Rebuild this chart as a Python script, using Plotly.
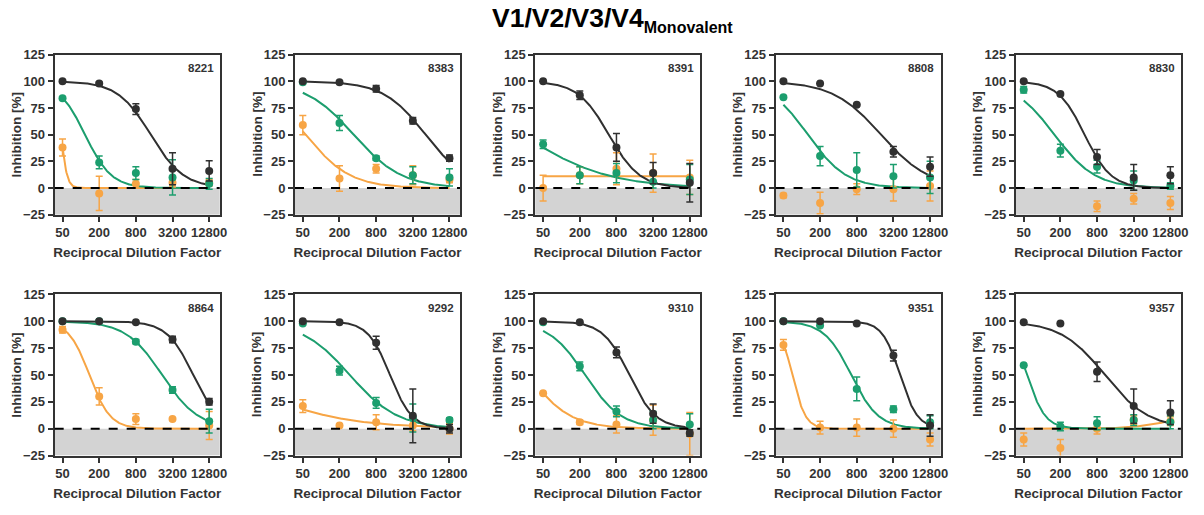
import numpy as np
import plotly.graph_objects as go

panel_ids = ["8221", "8383", "8391", "8808", "8830", "8864", "9292", "9310", "9351", "9357"]
dilutions = [50, 200, 800, 3200, 12800]
dilution_labels = ["50", "200", "800", "3200", "12800"]
y_ticks = [-25, 0, 25, 50, 75, 100, 125]

dark_vals = [
    [100, 98, 74, 18, 16], [100, 99, 93, 63, 28], [100, 87, 38, 14, 5], [100, 98, 78, 34, 20],
    [100, 88, 29, 10, 12], [100, 100, 99, 83, 25], [100, 99, 80, 12, 0], [100, 99, 71, 14, -4],
    [100, 100, 98, 68, 3], [99, 98, 53, 21, 15]]
dark_err = [
    [0, 1, 5, 15, 9.5], [0, 1, 3, 3, 3], [0, 4, 13, 10, 18], [0, 0, 0, 5, 9],
    [0, 0, 7, 12, 8], [0, 0, 0, 3, 3], [0, 0, 6, 25, 4], [0, 0, 5, 9, 3],
    [0, 0, 0, 5, 10], [0, 0, 9, 16, 11]]

green_vals = [
    [84, 24, 14, 10, 4], [99, 61, 28, 12, 10], [41, 12, 14, 6, 8], [85, 30, 17, 11, 10],
    [92, 35, 20, 7, 2], [100, 100, 81, 36, 7], [98, 54, 24, 10, 8], [99, 58, 16, 8, 4],
    [100, 96, 37, 18, 6], [59, 2, 5, 8, 6]]
green_err = [
    [0, 6, 6, 16.5, 5], [0, 7, 2, 8, 8], [4, 8, 9, 6, 14], [0, 9, 16, 11, 15],
    [3, 6, 6, 9, 3], [0, 0, 2, 3, 11], [0, 4, 5, 13, 2], [0, 4, 5, 8, 10],
    [0, 0, 11, 3, 6], [0, 4, 6, 5, 6]]

orange_vals = [
    [38, -5, 4, 5, 5], [59, 9, 18, 12, 8], [0, 12, 18, 14, 10], [-7, -14, -1, -1, 2],
    [None, None, -17, -10, -14], [92, 30, 9, 9, 3], [21, 3, 6, 3, 0], [33, 6, 4, 8, -5],
    [78, 1, 1, 0, -10], [-10, -18, 0, 8, 7]]
orange_err = [
    [8, 16, 4, 4, 3], [9, 12, 4, 9, 3], [12, 8, 15, 18, 16], [2, 10, 5, 11, 14],
    [0, 0, 5, 5, 6], [3, 8, 5, 0, 13], [6, 0, 7, 5, 5], [0, 2, 8, 14, 20],
    [5, 6, 8, 8, 6], [6, 8, 5, 4, 4]]

# fitted 4-parameter logistic curves: (top, bottom, IC50, hill)
dark_fit = [(100, 0, 1400, 1.6), (100, 0, 5200, 1.25), (100, 0, 600, 1.7), (100, 0, 2000, 1.1),
            (100, 0, 500, 2.0), (100, 0, 7000, 2.0), (100, 0, 1350, 2.4), (100, 0, 1300, 2.0),
            (100, 0, 4100, 3.0), (100, 0, 1070, 1.2)]
green_fit = [(100, 0, 117, 2.0), (100, 0, 342, 1.1), (100, 0, 22.6, 0.62), (100, 0, 126, 1.37),
             (100, 0, 160, 1.3), (100, 0, 2157, 1.46), (100, 0, 295, 1.1), (100, 0, 244, 1.46),
             (100, 0, 650, 1.95), (100, 0, 56.7, 2.9)]
orange_fit = [(100, 0, 47.3, 8.7), (100, 0, 55.4, 1.18), (11, 11, 100, 1.0), None,
              None, (100, 0, 138, 2.55), (100, 0, 2.6, 0.515), (100, 0, 28.2, 1.24),
              (100, 0, 70, 4.0), (0, 12, 10000, 1.5)]

DARK = "#303030"
GREEN = "#1c9e6e"
ORANGE = "#f7a545"
TXT = "#333333"
FONT = "Liberation Sans, Arial, sans-serif"

W, H = 1204, 515
fig = go.Figure()

xgrid = np.logspace(np.log10(dilutions[0]), np.log10(dilutions[-1]), 300)


def curve(p):
    top, bottom, ic, h = p
    return bottom + (top - bottom) / (1 + (xgrid / ic) ** h)


shapes = []
annotations = []
for i, pid in enumerate(panel_ids):
    row, col = divmod(i, 5)
    n = i + 1
    xa = "x" if n == 1 else f"x{n}"
    ya = "y" if n == 1 else f"y{n}"
    left_px = 55 + 241.7 * col
    left = left_px / W
    right = left + 166 / W
    if row == 0:
        ydom = [1 - 214 / H, 1 - 49 / H]
    else:
        ydom = [1 - 462 / H, 1 - 296 / H]

    for fits, color in ((orange_fit, ORANGE), (green_fit, GREEN), (dark_fit, DARK)):
        if fits[i] is not None:
            fig.add_trace(go.Scatter(x=xgrid, y=curve(fits[i]), mode="lines",
                                     line=dict(color=color, width=2), xaxis=xa, yaxis=ya,
                                     showlegend=False, hoverinfo="skip"))
    for vals, errs, color in ((orange_vals, orange_err, ORANGE), (green_vals, green_err, GREEN),
                              (dark_vals, dark_err, DARK)):
        fig.add_trace(go.Scatter(x=dilutions, y=vals[i], mode="markers",
                                 marker=dict(color=color, size=8),
                                 error_y=dict(type="data", array=errs[i], color=color,
                                              thickness=1.5, width=3.5),
                                 xaxis=xa, yaxis=ya, showlegend=False))

    axis_common = dict(showline=True, linecolor=TXT, linewidth=2, mirror=True,
                       ticks="outside", ticklen=5, tickwidth=2, tickcolor=TXT,
                       showgrid=False, zeroline=False,
                       tickfont=dict(family=FONT, size=13, color=TXT, weight="bold"))
    fig.update_layout(**{
        ("xaxis" if n == 1 else f"xaxis{n}"): dict(
            domain=[left, right], anchor=ya, type="log", range=[1.57, 4.28],
            tickvals=dilutions, ticktext=dilution_labels,
            title=dict(text="Reciprocal Dilution Factor", standoff=8,
                       font=dict(family=FONT, size=13.5, color=TXT, weight="bold")),
            **axis_common),
        ("yaxis" if n == 1 else f"yaxis{n}"): dict(
            domain=ydom, anchor=xa, range=[-25, 125], tickvals=y_ticks,
            **axis_common),
    })
    annotations.append(dict(text="<b>Inhibition [%]</b>", textangle=-90,
                            xref="paper", yref="paper", x=(left_px - 38) / W,
                            y=(ydom[0] + ydom[1]) / 2, xanchor="center", yanchor="middle",
                            showarrow=False, font=dict(family=FONT, size=13.5, color=TXT)))
    shapes.append(dict(type="rect", xref=f"{xa} domain", yref=ya, x0=0, x1=1, y0=-25, y1=0,
                       fillcolor="#d3d3d3", line=dict(width=0), layer="below"))
    shapes.append(dict(type="line", xref=f"{xa} domain", yref=ya, x0=0, x1=1, y0=0, y1=0,
                       line=dict(color="black", width=2, dash="dash"), layer="above"))
    annotations.append(dict(text=f"<b>{pid}</b>", xref=f"{xa} domain", yref=f"{ya} domain",
                            x=0.975, y=0.965, xanchor="right", yanchor="top", showarrow=False,
                            font=dict(family=FONT, size=11.5, color=TXT)))

annotations.append(dict(
    text="<b>V1/V2/V3/V4<sub><span style='font-size:16px'>Monovalent</span></sub></b>",
    xref="paper", yref="paper", x=616 / W, y=1 - 13 / H, xanchor="center", yanchor="middle",
    showarrow=False, font=dict(family=FONT, size=26.5, color="black")))

fig.update_layout(width=W, height=H, margin=dict(l=0, r=0, t=0, b=0),
                  plot_bgcolor="white", paper_bgcolor="white",
                  shapes=shapes, annotations=annotations)
fig.write_html("out.html")
